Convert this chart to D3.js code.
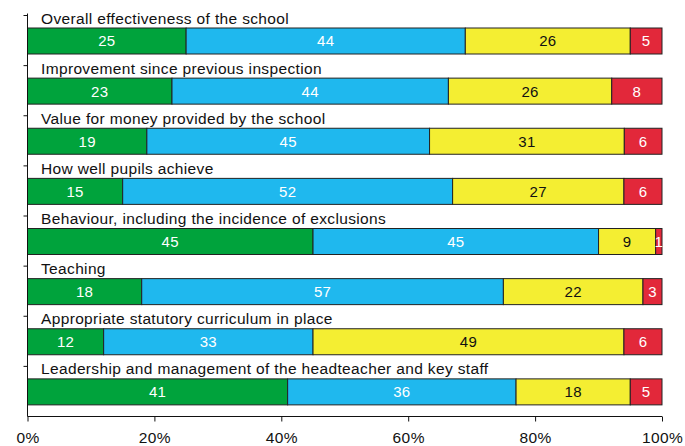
<!DOCTYPE html>
<html>
<head>
<meta charset="utf-8">
<script src="https://cdn.jsdelivr.net/npm/d3@7"></script>
<style>
  html, body { margin: 0; padding: 0; background: #fff; }
  svg { display: block; font-family: "Liberation Sans", Arial, Helvetica, sans-serif; }
</style>
</head>
<body>
<svg id="chart" width="685" height="446"></svg>
<script>
// Inspection judgements, percentage of schools in each grade
const categories = [
  "Overall effectiveness of the school",
  "Improvement since previous inspection",
  "Value for money provided by the school",
  "How well pupils achieve",
  "Behaviour, including the incidence of exclusions",
  "Teaching",
  "Appropriate statutory curriculum in place",
  "Leadership and management of the headteacher and key staff"
];
const grade1 = [25, 23, 19, 15, 45, 18, 12, 41];
const grade2 = [44, 44, 45, 52, 45, 57, 33, 36];
const grade3 = [26, 26, 31, 27,  9, 22, 49, 18];
const grade4 = [ 5,  8,  6,  6,  1,  3,  6,  5];
const xTicks = [0, 20, 40, 60, 80, 100];

const seriesKeys = ["g1", "g2", "g3", "g4"];
const fills = { g1: "#00a33c", g2: "#1fb8ee", g3: "#f4ee32", g4: "#e2283a" };
const textFill = { g1: "#fff", g2: "#fff", g3: "#111", g4: "#fff" };

const rows = categories.map((c, i) => ({
  name: c, g1: grade1[i], g2: grade2[i], g3: grade3[i], g4: grade4[i]
}));
// each row is shown as a share of its own total so bars fill 0-100%
const stacked = d3.stack().keys(seriesKeys)
  .offset(d3.stackOffsetExpand)(rows);

const svg = d3.select("#chart");
const plotL = 27.5, plotR = 662, plotT = 15.5, plotB = 416.5;

const x = d3.scaleLinear().domain([0, 1]).range([plotL, plotR]);
const y = d3.scaleBand().domain(categories).range([plotT, plotB]);
const barTop = 12.5, barH = 26;

// bars
const layers = svg.append("g").selectAll("g").data(stacked).join("g")
  .attr("fill", d => fills[d.key]);
layers.selectAll("rect").data(d => d.map(v => ({ v, key: d.key }))).join("rect")
  .attr("x", d => x(d.v[0]))
  .attr("y", d => y(d.v.data.name) + barTop)
  .attr("width", d => x(d.v[1]) - x(d.v[0]))
  .attr("height", barH)
  .attr("stroke", "#222")
  .attr("stroke-width", 1);

// value labels
layers.selectAll("text").data(d => d.map(v => ({ v, key: d.key }))).join("text")
  .attr("x", d => (x(d.v[0]) + x(d.v[1])) / 2)
  .attr("y", d => y(d.v.data.name) + barTop + barH / 2)
  .attr("dy", "0.36em")
  .attr("text-anchor", "middle")
  .attr("font-size", 15)
  .attr("letter-spacing", "0.3px")
  .attr("fill", d => textFill[d.key])
  .text(d => d.v.data[d.key]);

// category titles above each bar
svg.append("g").selectAll("text").data(categories).join("text")
  .attr("x", 41)
  .attr("y", d => y(d) + 8)
  .attr("font-size", 15.5)
  .attr("letter-spacing", "0.35px")
  .attr("fill", "#111")
  .text(d => d);

// left axis with ticks at band edges
const edges = categories.map(c => y(c));
svg.append("line")
  .attr("x1", plotL).attr("x2", plotL)
  .attr("y1", plotT - 2).attr("y2", plotB)
  .attr("stroke", "#111");
svg.append("g").selectAll("line").data(edges).join("line")
  .attr("x1", plotL - 4).attr("x2", plotL)
  .attr("y1", d => d).attr("y2", d => d)
  .attr("stroke", "#111");

// bottom axis
const xAxis = d3.axisBottom(d3.scaleLinear().domain([0, 100]).range([plotL, plotR]))
  .tickValues(xTicks)
  .tickFormat(d => d + "%")
  .tickSize(5)
  .tickPadding(10);
const ax = svg.append("g").attr("transform", `translate(0,${plotB})`).call(xAxis);
ax.select(".domain").attr("stroke", "#111").attr("d", `M${plotL},0H${plotR}`);
ax.selectAll(".tick line").attr("stroke", "#111");
ax.selectAll(".tick text").attr("font-size", 15.5).attr("fill", "#111")
  .attr("letter-spacing", "0.4px")
  .attr("font-family", "Liberation Sans, Arial, sans-serif");
</script>
</body>
</html>
